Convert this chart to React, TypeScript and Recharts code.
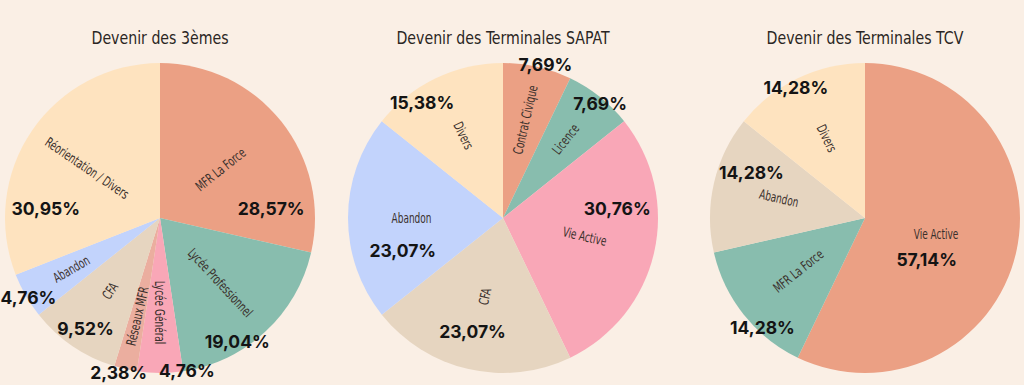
import React from 'react';
import { PieChart, Pie, Cell } from 'recharts';

// ---------- Data ----------
const titles = ['Devenir des 3èmes', 'Devenir des Terminales SAPAT', 'Devenir des Terminales TCV'];

const pie1Names = ['MFR La Force', 'Lycée Professionnel', 'Lycée Général', 'Réseaux MFR', 'CFA', 'Abandon', 'Réorientation / Divers'];
const pie1Values = [12, 8, 2, 1, 4, 2, 13];
const pie1Pcts = ['28,57%', '19,04%', '4,76%', '2,38%', '9,52%', '4,76%', '30,95%'];

const pie2Names = ['Contrat Civique', 'Licence', 'Vie Active', 'CFA', 'Abandon', 'Divers'];
const pie2Values = [1, 1, 4, 3, 3, 2];
const pie2Pcts = ['7,69%', '7,69%', '30,76%', '23,07%', '23,07%', '15,38%'];

const pie3Names = ['Vie Active', 'MFR La Force', 'Abandon', 'Divers'];
const pie3Values = [4, 1, 1, 1];
const pie3Pcts = ['57,14%', '14,28%', '14,28%', '14,28%'];

// ---------- Styles ----------
const C = {
  salmon: '#EBA084',
  teal: '#88BDAE',
  pink: '#F9A7B7',
  rose: '#EBAE9F',
  beige: '#E6D5C0',
  blue: '#C2D3FC',
  cream: '#FEE3BF',
  bg: '#FAEFE5',
};
const pie1Colors = [C.salmon, C.teal, C.pink, C.rose, C.beige, C.blue, C.cream];
const pie2Colors = [C.salmon, C.teal, C.pink, C.beige, C.blue, C.cream];
const pie3Colors = [C.salmon, C.teal, C.beige, C.cream];

// label placement: name radius fraction; percent label (clock angle from top, radius fraction)
const pie1NameR = [0.5, 0.57, 0.61, 0.65, 0.57, 0.66, 0.57];
const pie1PctPos: [number, number][] = [[85, 0.72], [148, 0.94], [170, 1.0], [195, 1.03], [214, 0.86], [239, 0.99], [275, 0.74]];
const pie2NameR = [0.65, 0.65, 0.54, 0.52, 0.59, 0.59];
const pie2PctPos: [number, number][] = [[15.4, 1.03], [40.2, 0.97], [85, 0.74], [195, 0.76], [252, 0.68], [325, 0.91]];
const pie3NameR = [0.47, 0.55, 0.57, 0.57];
const pie3PctPos: [number, number][] = [[124, 0.48], [223, 0.97], [292, 0.79], [332, 0.95]];
const pie3NameRot: (number | null)[] = [0, null, null, null];

const CENTERS = [160, 503, 865];
const CY = 218;
const R = 155;

const NAME_FONT = '"DejaVu Sans Condensed", "DejaVu Sans", sans-serif';
const PCT_FONT = 'Inter, "Noto Sans", sans-serif';
const RAD = Math.PI / 180;

function makeLabel(names: string[], pcts: string[], nameR: number[], pctPos: [number, number][], rotOverride?: (number | null)[]) {
  return (props: any) => {
    const { cx, cy, midAngle, outerRadius, index } = props;
    const screen = -midAngle;
    const a = screen * RAD;
    const nr = outerRadius * nameR[index];
    const nx = cx + nr * Math.cos(a);
    const ny = cy + nr * Math.sin(a);
    let rot = ((screen % 360) + 540) % 360 - 180; // (-180,180]
    if (rot > 90.5) rot -= 180;
    if (rot < -90) rot += 180;
    if (rotOverride && rotOverride[index] !== null && rotOverride[index] !== undefined) rot = rotOverride[index] as number;
    const [clock, pr] = pctPos[index];
    const pa = (clock - 90) * RAD;
    const px = cx + outerRadius * pr * Math.cos(pa);
    const py = cy + outerRadius * pr * Math.sin(pa);
    return (
      <g key={`lab-${index}`}>
        <text
          x={0}
          y={0}
          transform={`translate(${nx} ${ny}) rotate(${rot}) scale(0.74 1)`}
          textAnchor="middle"
          dominantBaseline="central"
          fontFamily={NAME_FONT}
          fontSize={13.5}
          fill="#3a302c"
        >
          {names[index]}
        </text>
        <text
          x={px}
          y={py}
          textAnchor="middle"
          dominantBaseline="central"
          fontFamily={PCT_FONT}
          fontWeight={700}
          fontSize={17.5}
          fill="#141414"
        >
          {pcts[index]}
        </text>
      </g>
    );
  };
}

const build = (names: string[], values: number[]) => names.map((n, i) => ({ name: n, value: values[i] }));

export default function App() {
  const data1 = build(pie1Names, pie1Values);
  const data2 = build(pie2Names, pie2Values);
  const data3 = build(pie3Names, pie3Values);
  return (
    <div style={{ position: 'absolute', left: 0, top: 0, width: 1024, height: 385, background: C.bg, overflow: 'hidden' }}>
      {titles.map((t, i) => (
        <div
          key={t}
          style={{
            position: 'absolute',
            left: CENTERS[i] - 160,
            width: 320,
            top: 28,
            textAlign: 'center',
            fontFamily: NAME_FONT,
            fontSize: 18.5,
            lineHeight: '20px',
            color: '#2a2623',
            transform: 'scaleX(0.85)',
            transformOrigin: '50% 50%',
          }}
        >
          {t}
        </div>
      ))}
      <div style={{ position: 'absolute', left: 0, top: 0 }}>
        <PieChart width={1024} height={385} margin={{ top: 0, right: 0, bottom: 0, left: 0 }}>
          <Pie
            data={data1}
            dataKey="value"
            cx={CENTERS[0]}
            cy={CY}
            outerRadius={R}
            startAngle={90}
            endAngle={-270}
            stroke="none"
            isAnimationActive={false}
            labelLine={false}
            label={makeLabel(pie1Names, pie1Pcts, pie1NameR, pie1PctPos)}
          >
            {data1.map((d, i) => (
              <Cell key={d.name} fill={pie1Colors[i]} />
            ))}
          </Pie>
          <Pie
            data={data2}
            dataKey="value"
            cx={CENTERS[1]}
            cy={CY}
            outerRadius={R}
            startAngle={90}
            endAngle={-270}
            stroke="none"
            isAnimationActive={false}
            labelLine={false}
            label={makeLabel(pie2Names, pie2Pcts, pie2NameR, pie2PctPos)}
          >
            {data2.map((d, i) => (
              <Cell key={d.name} fill={pie2Colors[i]} />
            ))}
          </Pie>
          <Pie
            data={data3}
            dataKey="value"
            cx={CENTERS[2]}
            cy={CY}
            outerRadius={R}
            startAngle={90}
            endAngle={-270}
            stroke="none"
            isAnimationActive={false}
            labelLine={false}
            label={makeLabel(pie3Names, pie3Pcts, pie3NameR, pie3PctPos, pie3NameRot)}
          >
            {data3.map((d, i) => (
              <Cell key={d.name} fill={pie3Colors[i]} />
            ))}
          </Pie>
        </PieChart>
      </div>
    </div>
  );
}
